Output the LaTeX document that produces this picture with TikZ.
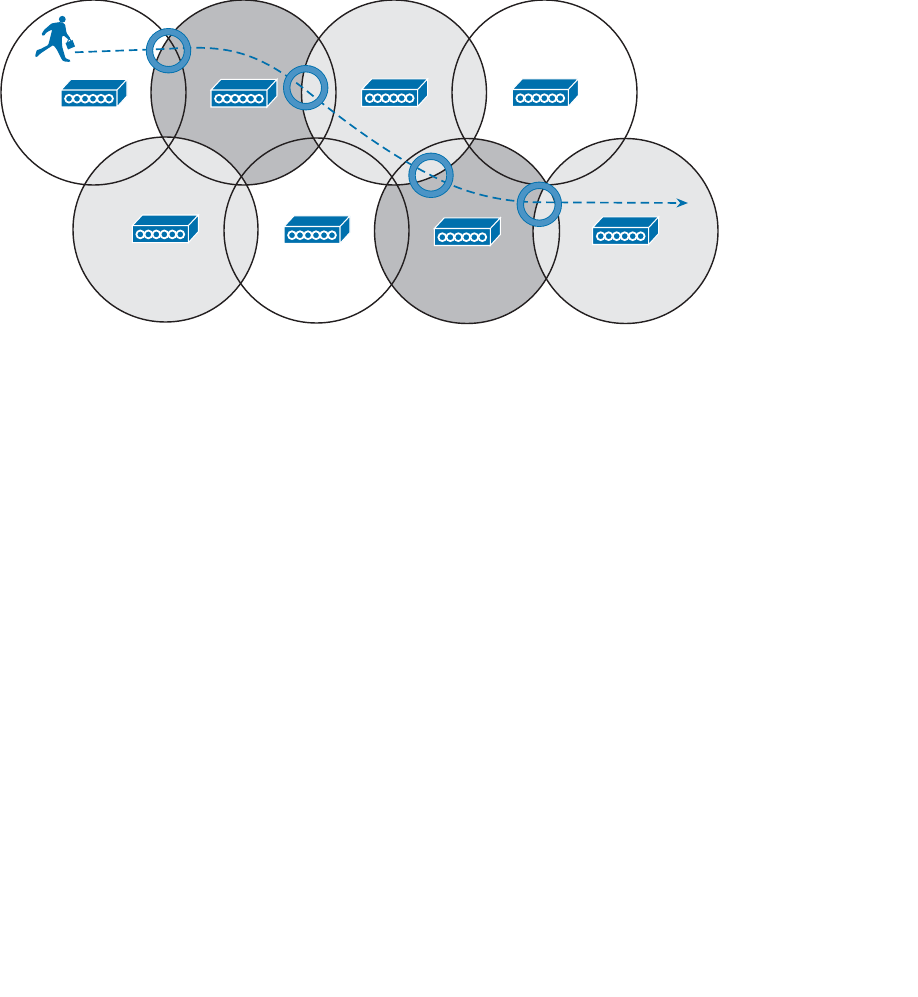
\documentclass[tikz,border=0pt]{standalone}
\usepackage{xcolor}
\usepackage{tikz}
\usetikzlibrary{arrows.meta}
\definecolor{myblue}{RGB}{0,112,173}
\definecolor{myring}{RGB}{74,148,198}
\definecolor{mydark}{RGB}{35,31,32}
\definecolor{celldark}{RGB}{187,188,191}
\definecolor{celllight}{RGB}{230,231,232}
\tikzset{
  cell/.style={circle, minimum size=3.7cm, inner sep=0pt, outer sep=0pt},
  cellwhite/.style={cell, fill=white},
  cellgray/.style={cell, fill=celldark},
  celllt/.style={cell, fill=celllight},
  cellline/.style={color=mydark, line width=0.8pt},
  ring/.style={circle, minimum size=0.76cm, inner sep=0pt, outer sep=0pt,
    draw=myblue, double=myring, line width=0.018cm, double distance=0.11cm},
  route/.style={-{Stealth[length=0.23cm, width=0.18cm]}, color=myblue,
    line width=0.95pt, dash pattern=on 0.17cm off 0.1cm},
  apbox/.pic={
    \filldraw[draw=white, fill=myblue, line width=0.6pt]
      (0,0) -- (10,-10.7) -- (66,-10.7) -- (56,0) -- cycle
      (56,0) -- (66,-10.7) -- (66,6) -- (56,17) -- cycle
      (0,0) rectangle (56,17);
    \foreach \i in {0,...,5}
      \draw[white, line width=1pt] (8+8*\i,8.7) circle[radius=3.9];
  }
}

\begin{document}
\begin{tikzpicture}[x=0.02cm, y=-0.02cm]
    \useasboundingbox (0,0) rectangle (917,997);

    % white cells first, gray next, light ones on top
    \node[cellwhite] (cella) at (93.5,92.5) {};
    \node[cellwhite] (celld) at (544.5,92.5) {};
    \node[cellwhite] (cellf) at (316.5,230.5) {};
    \node[cellgray] (cellb) at (243.5,92.5) {};
    \node[cellgray] (cellg) at (467,231) {};
    \node[celllt] (cellc) at (394,92.5) {};
    \node[celllt] (celle) at (165.5,229.5) {};
    \node[celllt] (cellh) at (625.5,231) {};
    \foreach \c in {cella,cellb,cellc,celld,celle,cellf,cellg,cellh}
      \draw[cellline] (\c.center) circle[radius=92.5];

    % access points
    \pic at (61,90) {apbox};
    \pic at (211,90) {apbox};
    \pic at (361.7,89.5) {apbox};
    \pic at (512.3,89.5) {apbox};
    \pic at (132.3,225.7) {apbox};
    \pic at (284,226.5) {apbox};
    \pic at (434.3,228.5) {apbox};
    \pic at (592.7,227.5) {apbox};

    % walking user
    \fill[myblue] (62.3,19.3) circle[radius=3.4];
    \fill[myblue, rounded corners=0.6pt] (60.7,22) -- (65,24) -- (66.5,33) -- (70.5,38.5)
      -- (69,40) -- (63,35) -- (61.7,38.3) -- (62.2,46.7) -- (65.5,58.3)
      -- (70.7,60.3) -- (70,62) -- (63.3,61.3) -- (61.7,59.3) -- (56.7,49.3)
      -- (53.3,45) -- (40.7,53.3) -- (36.7,57.3) -- (35,56.7) -- (36.7,50)
      -- (40,49.3) -- (48.3,45) -- (50,38.3) -- (52.3,29.3) -- (46,32.7)
      -- (44,36) -- (41.3,34.7) -- (44,30) -- (51.7,23.3) -- cycle;
    \fill[myblue] (65.5,43) -- (72.5,40) -- (75,46.5) -- (68,49.5) -- cycle;
    \draw[myblue, line width=0.5pt] (67.5,42.2) -- (68.3,39.8) -- (70,39.2) -- (71,41);

    % roaming path and the handoff points
    \coordinate (walkstart) at (75,52.3);
    \coordinate (hopa) at (168.5,48.8);
    \coordinate (hopb) at (305.7,90);
    \coordinate (hopc) at (431,175.3);
    \coordinate (hopd) at (539.3,202.3);
    \coordinate (pathend) at (688,203);
    \draw[route] (walkstart) -- (hopa)
      .. controls (225,45) and (255,50) .. (hopb)
      .. controls (340,118) and (385,152) .. (hopc)
      .. controls (458,190) and (495,202) .. (hopd)
      -- (pathend);
    \node[ring] (ringa) at (168.5,50.7) {};
    \node[ring] (ringb) at (305.7,87.7) {};
    \node[ring] (ringc) at (431,175.3) {};
    \node[ring] (ringd) at (539.3,204.3) {};
\end{tikzpicture}
\end{document}
